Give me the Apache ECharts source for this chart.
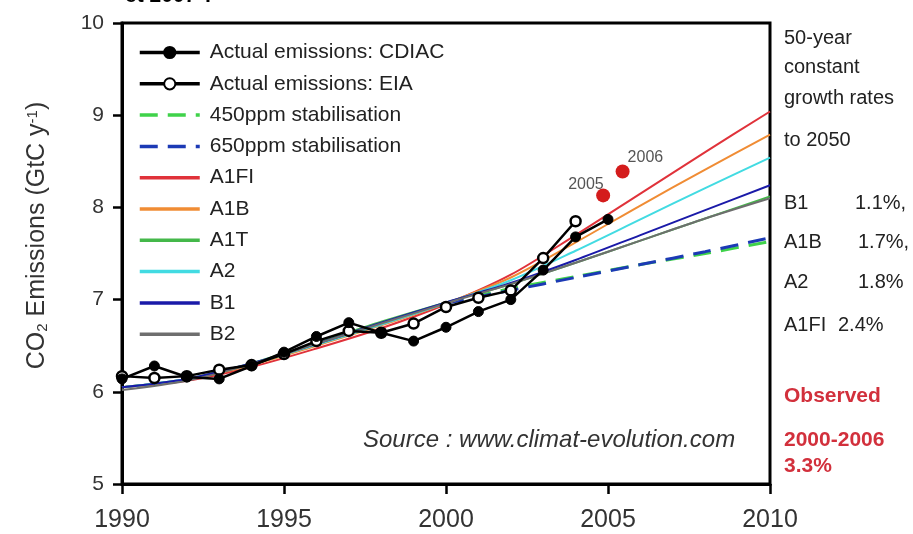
<!DOCTYPE html>
<html>
<head>
<meta charset="utf-8">
<script src="https://cdn.jsdelivr.net/npm/echarts@6/dist/echarts.min.js"></script>
<style>
html,body{margin:0;padding:0;background:#fff;}
#chart{width:913px;height:534px;}
</style>
</head>
<body>
<div id="chart"></div>
<script>
// ---- data ----
const dataYears = [1990,1991,1992,1993,1994,1995,1996,1997,1998,1999,2000,2001,2002,2003,2004,2005];
const cdiac = [6.14,6.28,6.16,6.14,6.28,6.43,6.60,6.75,6.64,6.55,6.70,6.87,7.00,7.32,7.68,7.87];
const eia   = [6.17,6.15,6.17,6.24,6.29,6.41,6.55,6.66,6.64,6.74,6.92,7.02,7.10,7.45,7.85,null];

const scenYears = [1990,1992,1994,1996,1998,2000,2002,2004,2006,2008,2010];
const a1fi = [6.05,6.12,6.27,6.47,6.69,6.95,7.27,7.70,8.15,8.60,9.04];
const a1b  = [6.05,6.13,6.29,6.50,6.72,6.96,7.24,7.62,8.02,8.41,8.79];
const a1t  = [6.05,6.14,6.31,6.53,6.76,6.97,7.17,7.40,7.64,7.88,8.12];
const a2   = [6.05,6.14,6.30,6.51,6.73,6.96,7.21,7.53,7.87,8.21,8.54];
const b1   = [6.05,6.14,6.31,6.52,6.75,6.97,7.18,7.43,7.70,7.97,8.24];
const b2   = [6.02,6.12,6.30,6.52,6.74,6.96,7.17,7.40,7.64,7.88,8.10];

const stabYears = [2000,2002,2004,2006,2008,2010];
const ppm450 = [6.96,7.12,7.25,7.38,7.50,7.63];
const ppm650 = [6.96,7.10,7.24,7.38,7.52,7.67];

const obsX = [2004.85, 2005.45];
const obsY = [8.13, 8.39];
const obsNames = ['2005','2006'];

const rightTexts = ['50-year','constant','growth rates','to 2050'];
const rateNames = ['B1','A1B','A2','A1FI'];
const rateValues = ['1.1%,','1.7%,','1.8%','2.4%'];
const observedTexts = ['Observed','2000-2006','3.3%'];

// ---- helpers ----
const pairs = (xs, ys) => xs.map((x,i)=>[x, ys[i]]);

const chart = echarts.init(document.getElementById('chart'));
const font = 'Liberation Sans, Arial, sans-serif';

function scen(name, xs, ys, color, width, dashed) {
  return {
    name, type:'line', data: pairs(xs, ys), smooth: 0.3,
    symbol:'circle', symbolSize:8, showSymbol:false,
    lineStyle:{color, width, type: dashed ? [18,10] : 'solid'},
    itemStyle:{color, opacity:0}, z: 2
  };
}

const graphics = [];
graphics.push({type:'text', left:125, top:-14, style:{text:'et 2007 ?', font:'bold 21px '+font, fill:'#000'}});
const rtY = [38,67,98,140];
rightTexts.forEach((t,i)=>graphics.push({type:'text', x:784, y:rtY[i], style:{text:t, font:'20px '+font, fill:'#222', textVerticalAlign:'middle'}}));
const rateY = [203,242,282,325];
const rateX = [855,858,858,838];
rateNames.forEach((t,i)=>{
  graphics.push({type:'text', x:784, y:rateY[i], style:{text:t, font:'20px '+font, fill:'#222', textVerticalAlign:'middle'}});
  graphics.push({type:'text', x:rateX[i], y:rateY[i], style:{text:rateValues[i], font:'20px '+font, fill:'#222', textVerticalAlign:'middle'}});
});
const obsTY = [396,440,466];
observedTexts.forEach((t,i)=>graphics.push({type:'text', x:784, y:obsTY[i], style:{text:t, font:'bold 21px '+font, fill:'#d2303c', textVerticalAlign:'middle'}}));
graphics.push({type:'text', x:363, y:440, style:{text:'Source : www.climat-evolution.com', font:'italic 24px '+font, fill:'#333', textVerticalAlign:'middle'}});

chart.setOption({
  animation:false,
  backgroundColor:'#fff',
  grid:{left:122, right:143, top:23, bottom:50, show:true, borderColor:'#000', borderWidth:3, backgroundColor:'transparent'},
  xAxis:{
    type:'value', min:1990, max:2010, interval:5,
    axisLine:{show:true, lineStyle:{color:'#000', width:3}},
    axisTick:{show:true, length:10, lineStyle:{color:'#000', width:2.5}},
    axisLabel:{margin:24, fontSize:25, color:'#333', fontFamily:font, formatter:v=>String(v)},
    splitLine:{show:false}
  },
  yAxis:{
    type:'value', min:5, max:10, interval:1,
    name:'{a|CO}{s|2}{a| Emissions (GtC y}{p|-1}{a|)}',
    nameLocation:'middle', nameGap:72, nameRotate:90,
    nameTextStyle:{padding:[0,0,0,36], rich:{
      a:{fontSize:25, color:'#333', fontFamily:font},
      s:{fontSize:15, color:'#333', fontFamily:font, verticalAlign:'bottom', padding:[9,0,0,0]},
      p:{fontSize:15, color:'#333', fontFamily:font, verticalAlign:'top', padding:[0,0,9,0]}
    }},
    axisLine:{show:true, lineStyle:{color:'#000', width:3}},
    axisTick:{show:true, length:9, lineStyle:{color:'#000', width:2.5}},
    axisLabel:{margin:18, fontSize:21, color:'#333', fontFamily:font},
    splitLine:{show:false}
  },
  legend:{
    orient:'vertical', left:138, top:42, padding:0,
    itemWidth:60, itemHeight:14, itemGap:10.3,
    lineStyle:{width:3.5},
    textStyle:{fontSize:21, color:'#222', fontFamily:font, padding:[0,0,0,5]},
    data:['Actual emissions: CDIAC','Actual emissions: EIA','450ppm stabilisation','650ppm stabilisation','A1FI','A1B','A1T','A2','B1','B2']
  },
  graphic: graphics,
  series:[
    scen('450ppm stabilisation', stabYears, ppm450, '#3fd24a', 3, true),
    scen('650ppm stabilisation', stabYears, ppm650, '#1c3ab5', 3, true),
    scen('A1FI', scenYears, a1fi, '#e0323a', 2, false),
    scen('A1B', scenYears, a1b, '#f08c34', 2, false),
    scen('A1T', scenYears, a1t, '#44b84a', 2, false),
    scen('A2', scenYears, a2, '#42dbe2', 2, false),
    scen('B1', scenYears, b1, '#1a1aa8', 2, false),
    scen('B2', scenYears, b2, '#6e6e6e', 2, false),
    {
      name:'Actual emissions: EIA', type:'line', data: pairs(dataYears, eia),
      symbol:'circle', symbolSize:10,
      lineStyle:{color:'#000', width:2.5},
      itemStyle:{color:'#fff', borderColor:'#000', borderWidth:2.5}, z:5
    },
    {
      name:'Actual emissions: CDIAC', type:'line', data: pairs(dataYears, cdiac),
      symbol:'circle', symbolSize:10,
      lineStyle:{color:'#000', width:2.5},
      itemStyle:{color:'#000', borderColor:'#000', borderWidth:1}, z:6
    },
    {
      name:'Observed', type:'scatter', symbol:'circle', symbolSize:14,
      itemStyle:{color:'#d41c1c', opacity:1}, z:7,
      data: obsX.map((x,i)=>({
        value:[x, obsY[i]], name: obsNames[i],
        label:{show:true, formatter:'{b}', fontSize:16, color:'#555', fontFamily:font,
               position: i===0 ? [-28,-12] : [12,-15]}
      }))
    }
  ]
});
</script>
</body>
</html>
